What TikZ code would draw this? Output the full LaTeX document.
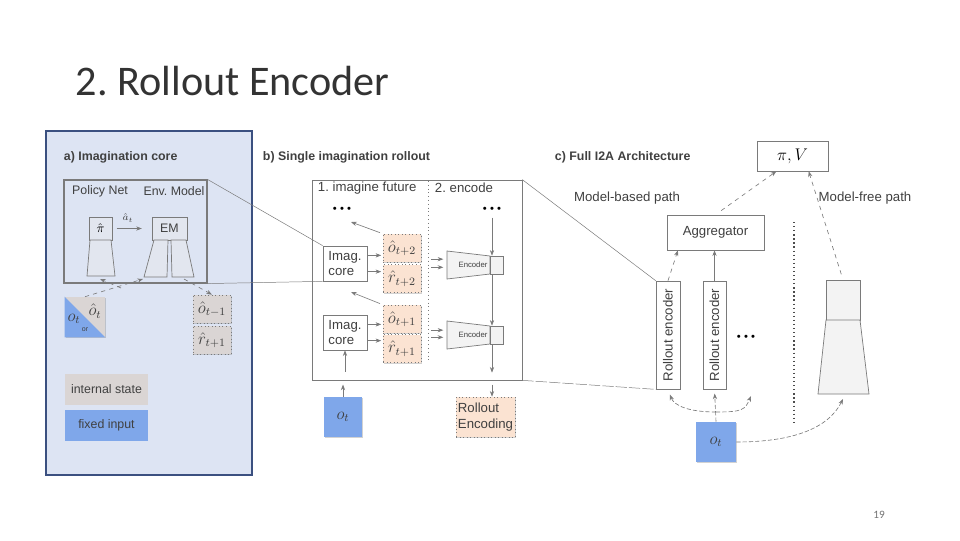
\documentclass[tikz,border=0pt]{standalone}
\usepackage[no-math]{fontspec}
\setmainfont{Liberation Sans}
\newfontfamily\slidefont{Carlito}
\usetikzlibrary{arrows.meta,shadows}
\frenchspacing

\definecolor{panelbg}{HTML}{DDE4F3}
\definecolor{panelrule}{HTML}{3B5080}
\definecolor{greybox}{HTML}{DAD5D4}
\definecolor{bluebox}{HTML}{7FA7EA}
\definecolor{peach}{HTML}{FBE3D2}
\definecolor{rulegray}{HTML}{7A7A7A}
\definecolor{inkgray}{HTML}{404040}
\definecolor{netfill}{HTML}{E2E6EF}
\definecolor{encfill}{HTML}{F3F3F3}

\tikzset{
  sz/.style 2 args={minimum width=#1*0.025cm,minimum height=#2*0.025cm,inner sep=0pt},
  txt/.style={font=\fontsize{9.4}{11}\selectfont,text=inkgray},
  txtA/.style={font=\fontsize{8.8}{10}\selectfont,text=inkgray},
  head/.style={font=\fontsize{8.8}{10}\selectfont\bfseries,text=inkgray,anchor=west},
  mth/.style={font=\fontsize{12}{14}\selectfont,text=inkgray},
  box/.style={draw=rulegray,line width=0.5pt},
  shad/.style={drop shadow={opacity=0.35,shadow xshift=1pt,shadow yshift=-1pt}},
  state/.style={draw=rulegray,dotted,line width=0.5pt,shad},
  more/.style={font=\fontsize{8}{9}\selectfont},
  guide/.style={draw=rulegray,line width=0.35pt},
  arr/.style={draw=rulegray,line width=0.45pt,-{Stealth[length=4pt,width=3pt]}},
  dsh/.style={dash pattern=on 3pt off 1.5pt}
}

\begin{document}
\begin{tikzpicture}[x=0.025cm,y=-0.025cm]
  \useasboundingbox[fill=white] (0,0) rectangle (960,540);

  \node[anchor=west,font=\slidefont\fontsize{30}{36}\selectfont,text=black!80] (title) at (71,81) {2. Rollout Encoder};
  \node[font=\slidefont\fontsize{8}{10}\selectfont,text=black!55] (pagenum) at (879,515) {19};

  % a) imagination core
  \draw[fill=panelbg,draw=panelrule,line width=1.8pt] (46,131) rectangle (252,475);
  \node[head] (headA) at (59,157) {a) Imagination core};
  \node[draw=rulegray,line width=0.8pt,sz={143}{103}] (core) at (135.5,231.5) {};
  \node[txtA] (pnet) at (100,191) {Policy Net};
  \node[txtA] (envm) at (174,191) {Env. Model};
  \node[box,fill=netfill,sz={23}{23},font=\small] (pihat) at (100.5,228.5) {$\hat{\pi}$};
  \draw[box,fill=netfill] (90,240) -- (111,240) -- (115,276) -- (87,276) -- cycle;
  \node[box,fill=netfill,sz={35}{23},txtA] (em) at (169.5,228.5) {EM};
  \draw[box,fill=netfill] (154,240) -- (168,240) -- (167,277) -- (144,277) -- cycle;
  \draw[box,fill=netfill] (171,240) -- (186,240) -- (194,277) -- (172,277) -- cycle;
  \node[font=\scriptsize,text=inkgray] (act) at (128,218) {$\hat{a}_t$};
  \draw[arr,shorten <=3pt,shorten >=7pt] (pihat) -- (em);
  \coordinate (pibot) at (100,279);
  \coordinate (emlbot) at (143,279);
  \coordinate (emrbot) at (184,279);
  \coordinate (junc) at (121,288);
  \node[fill=greybox,sz={40}{40},shad] (inp) at (85,317) {};
  \fill[bluebox] (inp.north west) -- (inp.south west) -- (inp.south east) -- cycle;
  \node[mth] (obs) at (74,319) {$o_t$};
  \node[mth] (obshat) at (95,311) {$\hat{o}_t$};
  \node[font=\fontsize{5}{6}\selectfont,text=inkgray] (orlbl) at (85,330) {or};
  \node[state,fill=greybox,sz={38}{28},mth] (ohA) at (212,309) {$\hat{o}_{t-1}$};
  \node[state,fill=greybox,sz={38}{28},mth] (rhA) at (212,340) {$\hat{r}_{t+1}$};
  \draw[arr,dashed] (inp.north) -- (emlbot);
  \draw[arr,dashed] (junc) -- (pibot);
  \draw[arr,dashed] (emrbot) -- (ohA.north);
  \node[fill=greybox,sz={83}{31},txtA] (istate) at (106.5,389.5) {internal state};
  \node[fill=bluebox,sz={83}{31},txtA] (finput) at (106.5,425.5) {fixed input};

  % b) single imagination rollout
  \node[head] (headB) at (258,157) {b) Single imagination rollout};
  \node[box,fill=white,sz={210}{200},shad] (rollout) at (417,280) {};
  \draw[rulegray,dotted,line width=0.7pt] (428,181) -- (428,362);
  \node[txt,anchor=west] (imagine) at (313,188) {1. imagine future};
  \node[txt,anchor=west] (encode) at (430,188) {2. encode};
  \node[more] (moreA) at (342,210) {\textbullet\ \textbullet\ \textbullet};
  \node[more] (moreB) at (492,210) {\textbullet\ \textbullet\ \textbullet};
  \node[box,fill=white,sz={44}{35},txt,align=left,shad] (imag2) at (345,263.5) {Imag.\\core};
  \node[box,fill=white,sz={44}{35},txt,align=left,shad] (imag1) at (345,332.5) {Imag.\\core};
  \node[state,fill=peach,sz={38}{28},mth] (o2) at (402,248) {$\hat{o}_{t+2}$};
  \node[state,fill=peach,sz={38}{28},mth] (r2) at (402,278.5) {$\hat{r}_{t+2}$};
  \node[state,fill=peach,sz={38}{28},mth] (o1) at (402,319) {$\hat{o}_{t+1}$};
  \node[state,fill=peach,sz={38}{28},mth] (r1) at (402,348.5) {$\hat{r}_{t+1}$};
  \foreach \n/\c in {2/265,1/335} {
    \draw[box,fill=encfill] (447,\c-14) -- (490,\c-9) -- (490,\c+9) -- (447,\c+14) -- cycle;
    \draw[box,fill=encfill] (490,\c-9) rectangle (503,\c+9);
    \node[sz={56}{18},font=\fontsize{5.5}{6}\selectfont,text=inkgray] (enc\n) at (473,\c) {Encoder};
  }
  \foreach \i in {1,2} {
    \draw[arr,shorten >=1pt] (imag\i.20) -- (imag\i.20 -| o\i.west);
    \draw[arr,shorten >=1pt] (imag\i.-20) -- (imag\i.-20 -| r\i.west);
    \draw[arr,shorten <=7pt,shorten >=1pt] (o\i.-30) -- (o\i.-30 -| enc\i.west);
    \draw[arr,shorten <=7pt,shorten >=1pt] (r\i.30) -- (r\i.30 -| enc\i.west);
  }
  \coordinate (backB) at (351,222);
  \coordinate (backA) at (351,292);
  \draw[arr,shorten <=2pt] (o2.north west) -- (backB);
  \draw[arr,shorten <=2pt] (o1.north west) -- (backA);
  \draw[arr] (moreB) -- (moreB |- enc2.north);
  \draw[arr] (moreB |- enc2.south) -- (moreB |- enc1.north);
  \draw[arr,shorten >=5.5pt] (moreB |- enc1.south) -- (moreB |- rollout.south);
  \node[fill=bluebox,sz={38}{40},mth,shad] (oin) at (343,417) {$o_t$};
  \node[state,fill=peach,sz={59}{40},txt,align=left] (renc) at (485.5,417) {Rollout\\Encoding};
  \draw[arr,shorten <=3pt] (moreB |- rollout.south) -- (moreB |- renc.north);
  \draw[arr,shorten >=3pt] (oin) -- (oin |- rollout.south);
  \draw[arr,shorten <=6pt] (imag1 |- rollout.south) -- (imag1);

  % c) full I2A architecture
  \node[head] (headC) at (550,157) {c) Full I2A Architecture};
  \node[box,fill=white,sz={71}{30},shad,font=\fontsize{13}{15}\selectfont] (piV) at (792.5,156) {$\pi, V$};
  \node[txt] (mbased) at (627,198) {Model-based path};
  \node[txt] (mfreelbl) at (865,198) {Model-free path};
  \node[box,fill=white,sz={97}{35},txt,shad] (agg) at (715.5,232.5) {Aggregator};
  \node[box,fill=white,rotate=90,sz={108}{24},txt,shad] (re1) at (668,335) {Rollout encoder};
  \node[box,fill=white,rotate=90,sz={108}{23},txt,shad] (re2) at (714.5,335) {Rollout encoder};
  \node[more] (moreC) at (746,338) {\textbullet\ \textbullet\ \textbullet};
  \draw[black!70,dotted,line width=0.9pt] (794,222) -- (794,423);
  \node[box,fill=encfill,sz={34}{40},shad] (mfree) at (843,300) {};
  \draw[box,fill=encfill] (826,320) -- (860,320) -- (869,394) -- (818,394) -- cycle;
  \coordinate (mfreebot) at (843,399);
  \node[fill=bluebox,sz={40}{40},mth,shad] (ot) at (716,442) {$o_t$};
  \coordinate (fork) at (716,412);
  \coordinate (moreCend) at (751,396);

  \draw[arr,dashed,shorten <=5pt] (agg.north) -- ([xshift=14pt]piV.south west);
  \draw[arr,dashed,shorten <=4pt] (mfree.north) -- ([xshift=-14pt]piV.south east);
  \draw[arr,dashed] (re1.east) -- ([xshift=8pt]agg.south west);
  \draw[arr] (re2.east) -- (re2.east |- agg.south);
  \draw[arr,dsh,shorten >=3pt] (ot.north) -- (re2.west);
  \draw[arr,dsh,shorten >=4pt] (fork) .. controls +(-28,0) and +(6,16) .. (re1.west);
  \draw[arr,dsh] (fork) .. controls +(26,0) and +(-6,14) .. (moreCend);
  \draw[arr,dsh] (ot.east) .. controls +(55,0) and +(-15,30) .. (mfreebot);

  % zoom guides between the panels
  \draw[guide] (core.north east) -- (imag2.north west);
  \draw[guide] (core.south east) -- (imag2.south west);
  \draw[guide] (rollout.north east) -- (re1.north east);
  \draw[guide,dash pattern=on 8pt off 1.5pt] (rollout.south east) -- (re1.north west);
\end{tikzpicture}
\end{document}
